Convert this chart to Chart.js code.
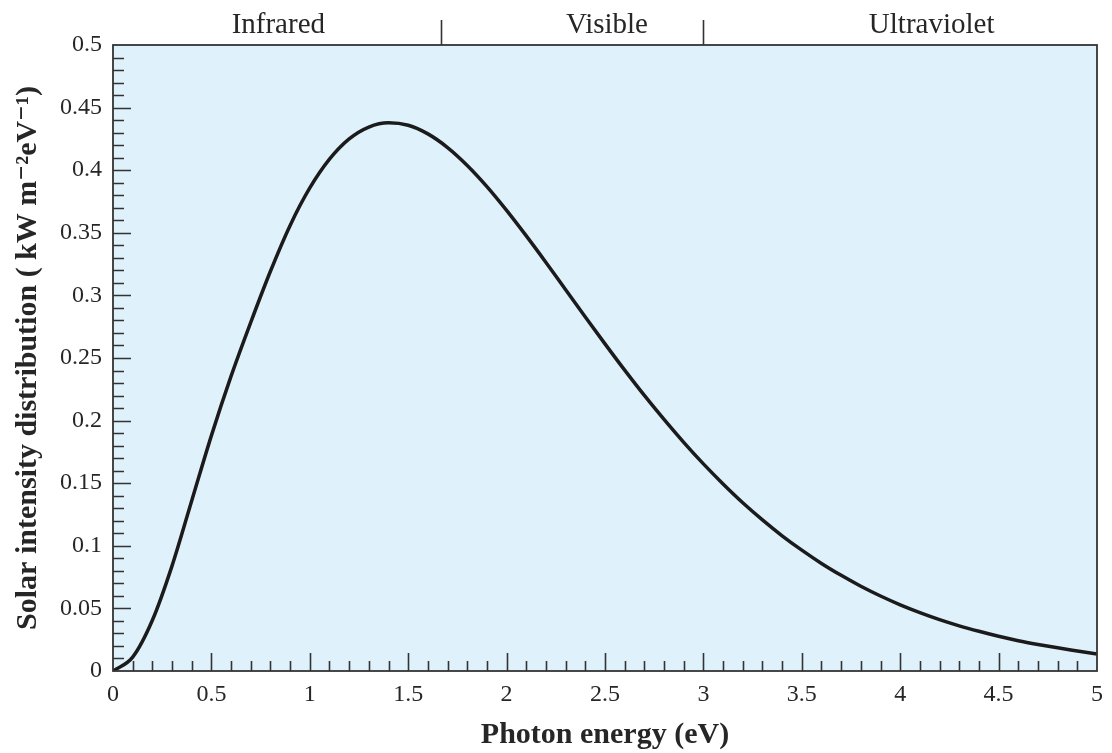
<!DOCTYPE html>
<html><head><meta charset="utf-8">
<style>html,body{margin:0;padding:0;background:#fff}#wrap{width:1112px;height:753px}</style>
<script src="https://cdn.jsdelivr.net/npm/chart.js@4/dist/chart.umd.min.js"></script>
</head><body><div id="wrap"><canvas id="c" width="1112" height="753"></canvas></div>
<script>
// Photon energy (eV)
const energies = [0,0.1,0.2,0.3,0.4,0.5,0.6,0.7,0.8,0.9,1.0,1.1,1.2,1.3,1.4,1.5,1.6,1.7,1.8,1.9,2.0,2.1,2.2,2.3,2.4,2.5,2.6,2.7,2.8,2.9,3.0,3.1,3.2,3.3,3.4,3.5,3.6,3.7,3.8,3.9,4.0,4.1,4.2,4.3,4.4,4.5,4.6,4.7,4.8,4.9,5.0];
// Solar intensity distribution (kW m^-2 eV^-1)
const intensity = [0,0.0111,0.0405,0.0840,0.1360,0.1880,0.2355,0.2785,0.3193,0.3559,0.3858,0.4088,0.4250,0.4345,0.4379,0.4359,0.4290,0.4181,0.4038,0.3869,0.3679,0.3475,0.3263,0.3045,0.2828,0.2613,0.2403,0.2201,0.2009,0.1826,0.1654,0.1494,0.1344,0.1207,0.1080,0.0965,0.0859,0.0764,0.0677,0.0599,0.0529,0.0467,0.0411,0.0361,0.0317,0.0277,0.0242,0.0212,0.0185,0.0160,0.0135];
const xTickValues = [0,0.5,1,1.5,2,2.5,3,3.5,4,4.5,5];
const yTickValues = [0,0.05,0.1,0.15,0.2,0.25,0.3,0.35,0.4,0.45,0.5];
const regionNames = ['Infrared','Visible','Ultraviolet'];
const regionLabelAt = [0.84, 2.51, 4.16];
const regionBounds = [1.667, 3.0];

const SERIF = '"Liberation Serif", "DejaVu Serif", serif';
const INK = '#262626';

const decorPlugin = {
  id: 'decor',
  beforeDraw(chart) {
    const {ctx, chartArea: a} = chart;
    ctx.save();
    ctx.fillStyle = '#dff1fb';
    ctx.fillRect(a.left, a.top, a.right - a.left, a.bottom - a.top);
    ctx.restore();
  },
  afterDraw(chart) {
    const {ctx, chartArea: a} = chart;
    const xs = chart.scales.x, ys = chart.scales.y;
    ctx.save();
    ctx.strokeStyle = '#333';
    ctx.lineWidth = 1.8;
    ctx.strokeRect(a.left, a.top, a.right - a.left, a.bottom - a.top);
    ctx.lineWidth = 1.6;
    ctx.beginPath();
    for (let i = 1; i < 50; i++) {
      const px = Math.round(xs.getPixelForValue(i / 10)) + 0.5;
      const len = (i % 5 === 0) ? 18 : 10;
      ctx.moveTo(px, a.bottom);
      ctx.lineTo(px, a.bottom - len);
    }
    for (let j = 1; j < 50; j++) {
      const py = Math.round(ys.getPixelForValue(j / 100)) + 0.5;
      const len = (j % 5 === 0) ? 18 : 11;
      ctx.moveTo(a.left, py);
      ctx.lineTo(a.left + len, py);
    }
    regionBounds.forEach(v => {
      const px = Math.round(xs.getPixelForValue(v)) + 0.5;
      ctx.moveTo(px, a.top);
      ctx.lineTo(px, a.top - 25);
    });
    ctx.stroke();
    ctx.fillStyle = INK;
    ctx.font = '29px ' + SERIF;
    ctx.textAlign = 'center';
    ctx.textBaseline = 'alphabetic';
    regionNames.forEach((n, k) => {
      ctx.fillText(n, xs.getPixelForValue(regionLabelAt[k]), 33);
    });
    ctx.restore();
  }
};

new Chart(document.getElementById('c'), {
  type: 'line',
  data: {
    datasets: [{
      data: energies.map((e, i) => ({x: e, y: intensity[i]})),
      borderColor: '#1b1b1b',
      borderWidth: 3.5,
      pointRadius: 0,
      fill: false,
      cubicInterpolationMode: 'monotone'
    }]
  },
  options: {
    responsive: false,
    animation: false,
    layout: {padding: {top: 45, right: 15, left: 0, bottom: 0}},
    plugins: {legend: {display: false}, tooltip: {enabled: false}},
    scales: {
      x: {
        type: 'linear', min: 0, max: 5,
        afterBuildTicks: s => { s.ticks = xTickValues.map(v => ({value: v})); },
        ticks: {
          color: INK, font: {family: SERIF, size: 24}, padding: 9,
          maxRotation: 0, autoSkip: false,
          callback: v => String(+v.toFixed(1))
        },
        grid: {display: false, drawTicks: false},
        border: {display: false},
        title: {
          display: true, text: 'Photon energy (eV)', color: INK,
          font: {family: SERIF, size: 30, weight: 'bold'},
          padding: {top: 0, bottom: 0}
        },
        afterFit: s => { s.height = 82; }
      },
      y: {
        type: 'linear', min: 0, max: 0.5,
        afterBuildTicks: s => { s.ticks = yTickValues.map(v => ({value: v})); },
        ticks: {
          color: INK, font: {family: SERIF, size: 24}, padding: 11,
          autoSkip: false,
          callback: v => String(+v.toFixed(2))
        },
        grid: {display: false, drawTicks: false},
        border: {display: false},
        title: {
          display: true, text: 'Solar intensity distribution ( kW m\u207B\u00B2eV\u207B\u00B9)', color: INK,
          font: {family: SERIF, size: 30, weight: 'bold'},
          padding: {top: 10, bottom: 0}
        },
        afterFit: s => { s.width = 113; }
      }
    }
  },
  plugins: [decorPlugin]
});
</script>
</body></html>
